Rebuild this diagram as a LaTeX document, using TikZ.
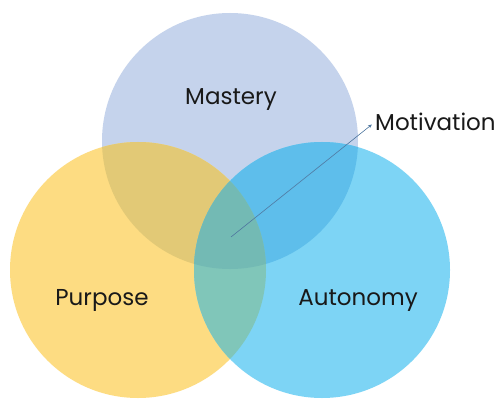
\documentclass[tikz,border=0pt]{standalone}
\usepackage{fontspec}
\setmainfont{Poppins}
\usetikzlibrary{arrows.meta}
\definecolor{mcol}{RGB}{197,211,236}
\definecolor{pcol}{RGB}{253,220,130}
\definecolor{acol}{RGB}{125,212,245}
\definecolor{mpcol}{RGB}{226,201,118}
\definecolor{macol}{RGB}{94,190,235}
\definecolor{pacol}{RGB}{128,198,185}
\definecolor{allcol}{RGB}{115,186,180}
\definecolor{arrcol}{RGB}{80,120,160}
\tikzset{
  lbl/.style={font=\fontsize{23}{26}\selectfont, text=black!90, inner sep=0pt},
  ptr/.style={draw=arrcol, line width=0.6pt, shorten >=4pt, -{Stealth[length=4pt,width=3.5pt]}}
}
\begin{document}
\begin{tikzpicture}[x=1pt,y=-1pt]
\useasboundingbox (0,0) rectangle (500,414);
\fill[white] (0,0) rectangle (500,414);
\def\r{128}
\coordinate (cM) at (230,141);
\coordinate (cP) at (138,270);
\coordinate (cA) at (322,270);
\fill[mcol] (cM) circle (\r);
\fill[pcol] (cP) circle (\r);
\fill[acol] (cA) circle (\r);
\begin{scope}\clip (cM) circle (\r); \fill[mpcol] (cP) circle (\r); \end{scope}
\begin{scope}\clip (cM) circle (\r); \fill[macol] (cA) circle (\r); \end{scope}
\begin{scope}\clip (cP) circle (\r); \fill[pacol] (cA) circle (\r); \end{scope}
\begin{scope}\clip (cM) circle (\r); \clip (cP) circle (\r); \fill[allcol] (cA) circle (\r); \end{scope}
\node[lbl] (mastery) at (231,100) {Mastery};
\node[lbl] (purpose) at (102,300) {Purpose};
\node[lbl] (autonomy) at (358,300) {Autonomy};
\node[lbl, anchor=west] (motivation) at (375,122) {Motivation};
\coordinate (core) at (231,237);
\draw[ptr] (core) -- (motivation.west);
\end{tikzpicture}
\end{document}
